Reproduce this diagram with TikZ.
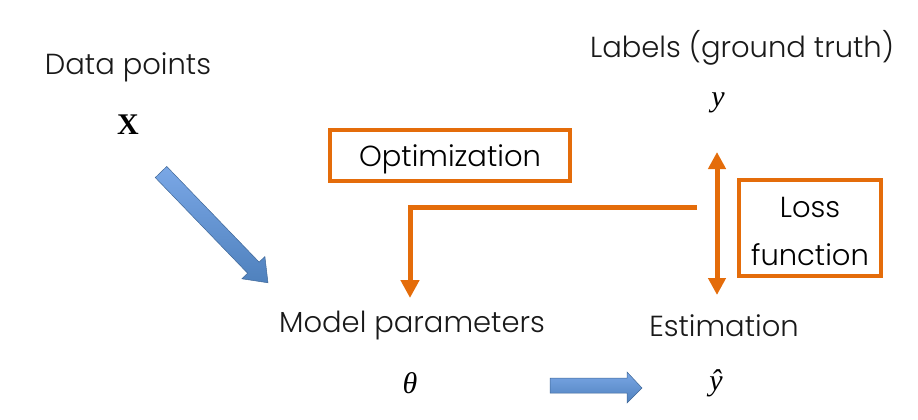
\documentclass[tikz,border=0pt]{standalone}
\usepackage{fontspec}
\setmainfont{Poppins Light}
\newfontfamily\symfont{Liberation Serif}
\usetikzlibrary{arrows.meta}
\definecolor{orng}{HTML}{E46C0A}
\definecolor{blueA}{HTML}{4F81BD}
\definecolor{blueB}{HTML}{7AA7E6}
\tikzset{
  lbl/.style={font=\fontsize{29}{34}\selectfont, text=black!90, inner sep=0pt, anchor=center},
  sym/.style={font=\symfont\fontsize{30}{34}\selectfont, inner sep=0pt, anchor=center},
  obox/.style={draw=orng, line width=4pt, inner sep=0pt, align=center, font=\fontsize{29}{48}\selectfont},
  oline/.style={draw=orng, line width=5pt},
  bluearrow/.style={top color=blueB, bottom color=blueA, draw=blueA!80!black, line width=0.5pt}
}
\begin{document}
\begin{tikzpicture}[x=1pt,y=-1pt]
\useasboundingbox (0,0) rectangle (918,420);
% labels
\node[lbl] (dp) at (128,67) {Data points};
\node[sym] (X) at (128,125) {\bfseries X};
\node[lbl] (lab) at (742,48) {Labels (ground truth)};
\node[sym] (y) at (718,103) {\itshape y};
\node[lbl] (mp) at (412,326) {Model parameters};
\node[sym] (th) at (410,383) {\itshape θ};
\node[lbl] (est) at (724,326) {Estimation};
\node[sym] (yh) at (716,383) {\itshape \^{y}};
% boxes
\node[obox, minimum width=240pt, minimum height=51pt] (opt) at (450,155.5) {\raisebox{-3.5pt}[\height][\depth]{Optimization}};
\node[obox, minimum width=142pt, minimum height=96pt] (loss) at (810,228) {\raisebox{-3pt}[\height][\depth]{Loss}\\\raisebox{-3pt}[\height][\depth]{function}};
% orange connectors
\coordinate (dtop) at (717,152);
\coordinate (dbot) at (717,295);
\draw[oline, {Triangle[width=17pt,length=17pt]}-{Triangle[width=17pt,length=17pt]}] (dtop) -- (dbot);
\coordinate (fbstart) at (697,207);
\coordinate (fbend) at (410,298);
\draw[oline, -{Triangle[width=18pt,length=18pt]}] (fbstart) -| (fbend);
% blue arrows
\path[bluearrow, shift={(161,172)}, rotate=-46]
  (0,-8) -- (133,-8) -- (133,-16) -- (154,0) -- (133,16) -- (133,8) -- (0,8) -- cycle;
\path[bluearrow]
  (550,378) -- (627,378) -- (627,372) -- (642,388) -- (627,403) -- (627,393) -- (550,393) -- cycle;
\end{tikzpicture}
\end{document}
